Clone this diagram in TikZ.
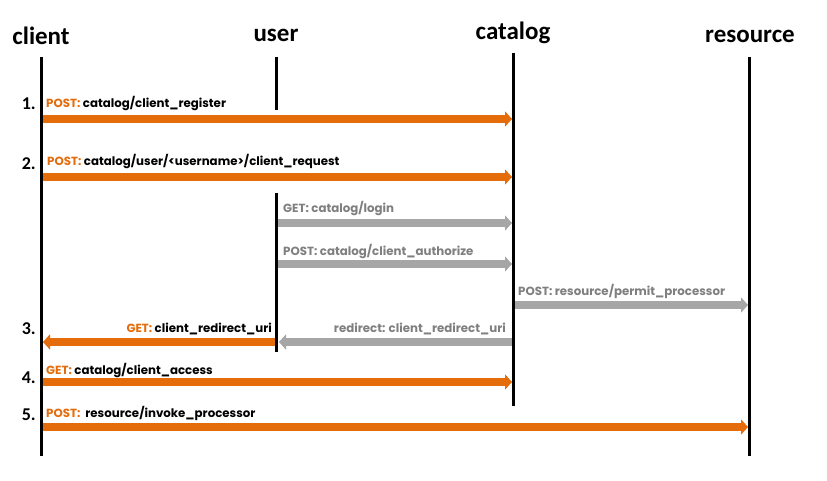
\documentclass[tikz,border=0pt]{standalone}
\usepackage{fontspec}
\setmainfont{Poppins}
\newfontfamily\headfont{Carlito}
\usetikzlibrary{arrows.meta}
\definecolor{orng}{HTML}{E46C0A}
\definecolor{gry}{HTML}{A6A6A6}
\definecolor{gtxt}{HTML}{7F7F7F}
\begin{document}
\begin{tikzpicture}[x=1pt,y=-1pt,
  head/.style={font=\headfont\bfseries\fontsize{25}{25}\selectfont, inner sep=0pt},
  num/.style={font=\headfont\bfseries\fontsize{18}{18}\selectfont, inner sep=0pt, anchor=east},
  life/.style={line width=3pt},
  msg/.style={line width=7.5pt, -{Triangle[length=7pt,width=15pt]}},
  omsg/.style={msg, draw=orng},
  gmsg/.style={msg, draw=gry},
  lbl/.style={font=\bfseries\fontsize{11.8}{12}\selectfont, inner sep=0pt, anchor=base west},
  rlbl/.style={lbl, anchor=base east}
]
\useasboundingbox (0,0) rectangle (827,481);
\fill[white] (0,0) rectangle (827,481);
% headers
\node[head] (hc) at (41,36) {client};
\node[head] (hu) at (276,35) {user};
\node[head] (hk) at (513,33) {catalog};
\node[head] (hr) at (750,36) {resource};
% lifelines
\coordinate (c0) at (41,57);   \coordinate (cE) at (41,456);
\coordinate (u0) at (276,57);  \coordinate (u1) at (276,110);
\coordinate (u2) at (276,193); \coordinate (u3) at (276,352);
\coordinate (k0) at (513,53);  \coordinate (kE) at (513,406);
\coordinate (r0) at (749,57);  \coordinate (rE) at (749,456);
\draw[life] (c0) -- (cE);
\draw[life] (u0) -- (u1);
\draw[life] (u2) -- (u3);
\draw[life] (k0) -- (kE);
\draw[life] (r0) -- (rE);
% arrow end points
\coordinate (a1s) at (42.5,119); \coordinate (a1e) at (512,119);
\coordinate (a2s) at (42.5,177); \coordinate (a2e) at (512,177);
\coordinate (a3s) at (277.5,223); \coordinate (a3e) at (512,223);
\coordinate (a4s) at (277.5,264); \coordinate (a4e) at (512,264);
\coordinate (a5s) at (514.5,305); \coordinate (a5e) at (748,305);
\coordinate (a6s) at (511.5,342); \coordinate (a6e) at (279,342);
\coordinate (a7s) at (274.5,342); \coordinate (a7e) at (43,342);
\coordinate (a8s) at (42.5,382); \coordinate (a8e) at (512,382);
\coordinate (a9s) at (42.5,427); \coordinate (a9e) at (748,427);
\draw[omsg] (a1s) -- (a1e);
\draw[omsg] (a2s) -- (a2e);
\draw[gmsg] (a3s) -- (a3e);
\draw[gmsg] (a4s) -- (a4e);
\draw[gmsg] (a5s) -- (a5e);
\draw[gmsg] (a6s) -- (a6e);
\draw[omsg] (a7s) -- (a7e);
\draw[omsg] (a8s) -- (a8e);
\draw[omsg] (a9s) -- (a9e);
% numbers
\node[num] (n1) at (36,104) {1.};
\node[num] (n2) at (36,164) {2.};
\node[num] (n3) at (36,329) {3.};
\node[num] (n4) at (36,378) {4.};
\node[num] (n5) at (36,415) {5.};
% labels
\node[lbl] (l1) at (46,108) {\textcolor{orng}{POST:} catalog/client\_register};
\node[lbl] (l2) at (47,166) {\textcolor{orng}{POST:} catalog/user/<username>/client\_request};
\node[lbl, text=gtxt] (l3) at (283,213) {GET: catalog/login};
\node[lbl, text=gtxt] (l4) at (283,255) {POST: catalog/client\_authorize};
\node[lbl, text=gtxt] (l5) at (518,295) {POST: resource/permit\_processor};
\node[rlbl, text=gtxt] (l6) at (506,332) {redirect: client\_redirect\_uri};
\node[rlbl] (l7) at (272,332) {\textcolor{orng}{GET:} client\_redirect\_uri};
\node[lbl] (l8) at (46,374) {\textcolor{orng}{GET:} catalog/client\_access};
\node[lbl] (l9) at (46,417) {\textcolor{orng}{POST:}\ \ resource/invoke\_processor};
\end{tikzpicture}
\end{document}
